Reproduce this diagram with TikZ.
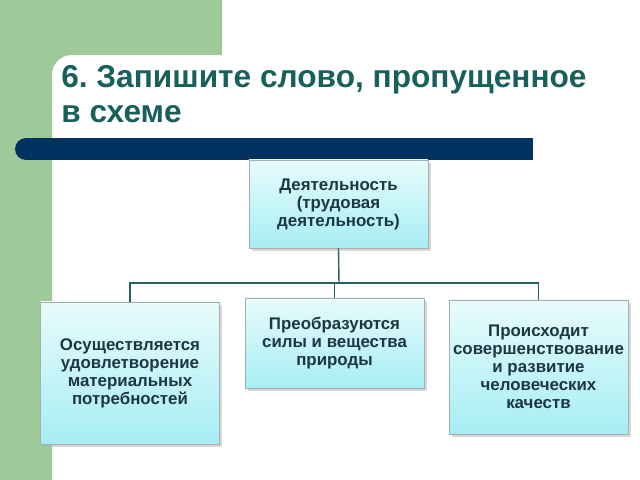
\documentclass[tikz,border=0pt]{standalone}
\usepackage{fontspec}
\setmainfont{Liberation Sans}
\usetikzlibrary{shadows}

\definecolor{leafgreen}{RGB}{158,202,154}
\definecolor{barnavy}{RGB}{2,50,96}
\definecolor{titleteal}{RGB}{24,96,92}
\definecolor{boxtop}{RGB}{232,251,251}
\definecolor{boxbottom}{RGB}{166,238,244}
\definecolor{boxgrey}{RGB}{165,175,178}
\definecolor{boxtext}{RGB}{28,54,68}
\definecolor{linkteal}{RGB}{38,98,96}

\begin{document}
\begin{tikzpicture}[x=0.025cm, y=-0.025cm]
        \tikzstyle{box}=[draw=boxgrey, line width=0.6pt, top color=boxtop, bottom color=boxbottom, drop shadow={shadow xshift=2pt, shadow yshift=-2pt, fill=black!30}, align=center, text=boxtext, font=\fontsize{12}{12.8}\selectfont\bfseries, minimum width=4.475cm, inner sep=0pt]
        \tikzstyle{link}=[draw=linkteal, line width=1pt]
        \useasboundingbox (0,0) rectangle (640,480);
        % background
        \fill[leafgreen] (0,0) -- (222,0) -- (222,55) [rounded corners=14] -- (52,55) [sharp corners] -- (52,480) -- (0,480) -- cycle;
        \node[anchor=base west, align=left, text=titleteal, font=\fontsize{22.5}{24.8}\selectfont\bfseries\frenchspacing, inner sep=0pt] (title) at (61,122) {6. Запишите слово, пропущенное\\в схеме};
        \fill[barnavy] (26,138) rectangle (533,160);
        \fill[barnavy] (26,149) circle (11);
        % scheme
        \node[box, minimum height=2.2cm] (work) at (338.5,204) {Деятельность\\(трудовая\\деятельность)};
        \node[box, minimum height=3.55cm] (needs) at (130,373) {Осуществляется\\удовлетворение\\материальных\\потребностей};
        \node[box, minimum height=2.25cm] (nature) at (334.5,343) {Преобразуются\\силы и вещества\\природы};
        \node[box, minimum height=3.35cm] (growth) at (538.5,367) {Происходит\\совершенствование\\и развитие\\человеческих\\качеств};
        \coordinate (split) at (339,283);
        \draw[link] (work.south) -- (split);
        \draw[link] (needs.north) |- (split) -| (growth.north);
        \draw[link] (nature.north) -- (nature.north |- split);
\end{tikzpicture}
\end{document}
